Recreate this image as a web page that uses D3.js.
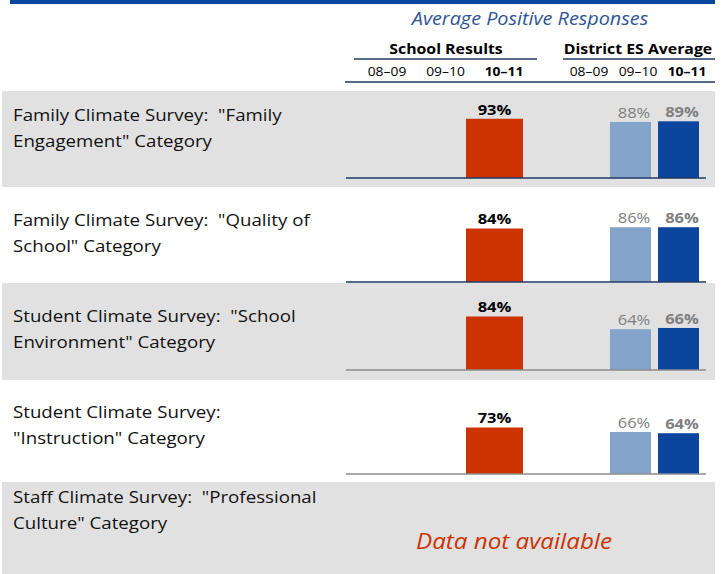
<!DOCTYPE html>
<html><head><meta charset="utf-8">
<script src="https://cdn.jsdelivr.net/npm/d3@7"></script>
<style>body{margin:0;background:#fff}svg{display:block}text{white-space:pre}</style>
</head><body>
<script>
// ---- data ----
const categories = [
  ["Family Climate Survey:  \"Family", "Engagement\" Category"],
  ["Family Climate Survey:  \"Quality of", "School\" Category"],
  ["Student Climate Survey:  \"School", "Environment\" Category"],
  ["Student Climate Survey:", "\"Instruction\" Category"],
  ["Staff Climate Survey:  \"Professional", "Culture\" Category"]
];
const years = ["08–09", "09–10", "10–11"];
const schoolValues = [
  [null, null, 93],
  [null, null, 84],
  [null, null, 84],
  [null, null, 73],
  null
];
const districtValues = [
  [null, 88, 89],
  [null, 86, 86],
  [null, 64, 66],
  [null, 66, 64],
  null
];
const titleText = "Average Positive Responses";
const groupTitles = ["School Results", "District ES Average"];
const naText = "Data not available";

// ---- layout ----
const W = 723, H = 574;
const rowTop = [91, 187, 283, 380, 482, 574];
const rowBase = [178, 282, 370, 474];
const labelDy = [30, 39, 39, 38, 21];
const rowShaded = [true, false, true, false, true];
const axisColor = ["#1F3864", "#1F3864", "#8C8C8C", "#8C8C8C"];
const FONT = "'Open Sans', sans-serif";
const SX = 1.1; // horizontal stretch to mimic the reference typeface proportions
const C = {red: "#CC3300", light: "#84A4CC", dark: "#0B459D", band: "#E1E1E1", navy: "#1F3864", title: "#2F5597"};

const svg = d3.select("body").append("svg").attr("width", W).attr("height", H)
  .style("font-family", FONT);

function addText(x, y, str, o) {
  const t = svg.append("text").attr("transform", `translate(${x},${y}) scale(${SX},1)`)
    .attr("text-anchor", o.anchor || "start").attr("font-size", o.size)
    .attr("font-weight", o.weight || "normal").attr("font-style", o.style || "normal")
    .attr("fill", o.fill || "#000");
  if (Array.isArray(str)) str.forEach((l, k) => t.append("tspan").attr("x", 0).attr("dy", k === 0 ? 0 : o.lh).text(l));
  else t.text(str);
  return t;
}

// scales
const xSchool = d3.scaleBand().domain(years).range([332.5, 523]).paddingInner(0.146).paddingOuter(0);
const xDistrict = d3.scaleBand().domain(years).range([562, 699]).paddingInner(0.146).paddingOuter(0);
const xSchoolLbl = d3.scalePoint().domain(years).range([387, 504]);
const xDistrictLbl = d3.scalePoint().domain(years).range([589, 687]);
const h = d3.scaleLinear().domain([0, 100]).range([0, 63.7]);

// top band
svg.append("rect").attr("x", 10).attr("y", 0).attr("width", 705).attr("height", 4).attr("fill", C.dark);

// rows backgrounds
categories.forEach((c, i) => {
  if (rowShaded[i]) svg.append("rect").attr("x", 2).attr("y", rowTop[i]).attr("width", 713)
    .attr("height", rowTop[i + 1] - rowTop[i]).attr("fill", C.band);
});

// header
addText(530, 25, titleText, {anchor: "middle", size: 18, style: "italic", fill: C.title});
addText(446, 54, groupTitles[0], {anchor: "middle", size: 14.4, weight: "bold"});
addText(638, 54, groupTitles[1], {anchor: "middle", size: 14.4, weight: "bold"});
svg.append("line").attr("x1", 354).attr("x2", 537).attr("y1", 59).attr("y2", 59).attr("stroke", C.navy).attr("stroke-width", 1.3);
svg.append("line").attr("x1", 563).attr("x2", 715).attr("y1", 59).attr("y2", 59).attr("stroke", C.navy).attr("stroke-width", 1.3);
svg.append("line").attr("x1", 345).attr("x2", 715).attr("y1", 82).attr("y2", 82).attr("stroke", C.navy).attr("stroke-width", 1.3);

years.forEach((y, j) => {
  const bold = j === years.length - 1;
  addText(xSchoolLbl(y), 76, y, {anchor: "middle", size: 12.6, weight: bold ? "bold" : "normal"});
  addText(xDistrictLbl(y), 76, y, {anchor: "middle", size: 12.6, weight: bold ? "bold" : "normal"});
});

// row labels
categories.forEach((lines, i) => {
  addText(13, rowTop[i] + labelDy[i], lines, {size: 17, lh: 26, fill: "#111"});
});

// bars
categories.forEach((c, i) => {
  if (!schoolValues[i]) return;
  const base = rowBase[i];
  schoolValues[i].forEach((v, j) => {
    if (v == null) return;
    const x = xSchool(years[j]);
    svg.append("rect").attr("x", x).attr("y", base - h(v)).attr("width", xSchool.bandwidth())
      .attr("height", h(v)).attr("fill", C.red);
    addText(x + xSchool.bandwidth() / 2, base - h(v) - 4, v + "%", {anchor: "middle", size: 15, weight: "bold"});
  });
  districtValues[i].forEach((v, j) => {
    if (v == null) return;
    const x = xDistrict(years[j]);
    const cur = j === years.length - 1;
    svg.append("rect").attr("x", x).attr("y", base - h(v)).attr("width", xDistrict.bandwidth())
      .attr("height", h(v)).attr("fill", cur ? C.dark : C.light);
    addText(x + xDistrict.bandwidth() / 2 + 3.5, base - h(v) - 4, v + "%",
      {anchor: "middle", size: 15, weight: cur ? "bold" : "normal", fill: "#808080"});
  });
  svg.append("line").attr("x1", 346).attr("x2", 706).attr("y1", base).attr("y2", base)
    .attr("stroke", axisColor[i]).attr("stroke-width", 1.5);
});

// not available
categories.forEach((c, i) => {
  if (schoolValues[i]) return;
  addText(514, rowTop[i] + 67, naText, {anchor: "middle", size: 22, style: "italic", fill: C.red});
});
</script>
</body></html>
